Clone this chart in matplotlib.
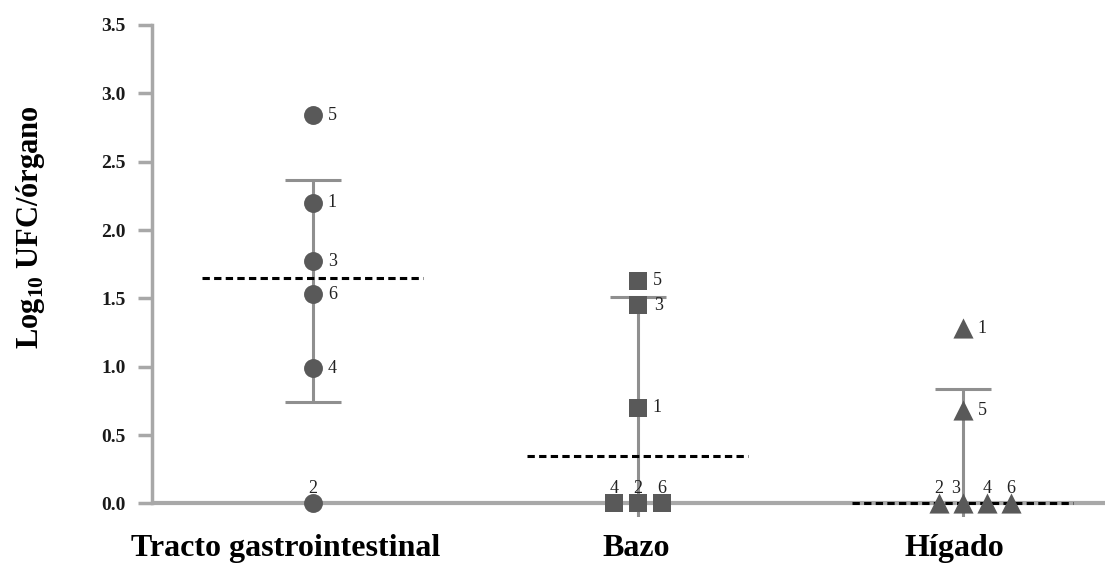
import numpy as np
import matplotlib.pyplot as plt

plt.rcParams.update({'font.family': 'Liberation Serif',
                     'mathtext.fontset': 'custom',
                     'mathtext.rm': 'Liberation Serif',
                     'mathtext.bf': 'Liberation Serif:bold'})

groups = ['Tracto gastrointestinal', 'Bazo', 'Hígado']

tracto_ids = ['5', '1', '3', '6', '4', '2']
tracto_vals = [2.84, 2.20, 1.77, 1.53, 0.99, 0.0]

bazo_ids = ['5', '3', '1', '4', '2', '6']
bazo_vals = [1.63, 1.45, 0.70, 0.0, 0.0, 0.0]

higado_ids = ['1', '5', '2', '3', '4', '6']
higado_vals = [1.28, 0.68, 0.0, 0.0, 0.0, 0.0]

# half-length of the error bars
err_half = [0.81, 0.88, 0.51]

# horizontal spread for the points sitting on 0 (in steps)
jitter = [
    [0, 0, 0, 0, 0, 0],
    [0, 0, 0, -1, 0, 1],
    [0, 0, -1, 0, 1, 2],
]
markers = ['o', 's', '^']
label_shift = [-0.083, -0.006, -0.025]  # group names are not quite centred

mk_color = '#595959'
bar_color = '#8f8f8f'
axis_color = '#a8a8a8'
step = 0.074

fig = plt.figure(figsize=(11.18, 5.67), dpi=100)
ax = fig.add_axes([0.136, 0.088, 0.852, 0.868])

all_ids = [tracto_ids, bazo_ids, higado_ids]
all_vals = [tracto_vals, bazo_vals, higado_vals]

ax.axhline(0, color=axis_color, lw=3, zorder=1)

for i, (ids, vals) in enumerate(zip(all_ids, all_vals)):
    x0 = i + 1
    vals = np.array(vals)
    mean = vals.mean()
    med = np.median(vals)

    ax.errorbar(x0, mean, yerr=err_half[i], fmt='none', ecolor=bar_color,
                elinewidth=2.2, capsize=20, capthick=2.2, zorder=2)
    ax.hlines(med, x0 - 0.34, x0 + 0.34, colors='black', lw=2.2,
              linestyles=(0, (2.4, 1.4)), zorder=3)

    xs = x0 + np.array(jitter[i]) * step
    ax.scatter(xs, vals, marker=markers[i], s=185 if i != 2 else 210,
               color=mk_color, zorder=4, linewidths=0, clip_on=False)

    # animal numbers: beside the point, or above it when on the axis
    for xx, v, lab in zip(xs, vals, ids):
        if v > 0:
            dx = 15 if (i == 1 and lab == '3') else 14
            ax.annotate(lab, (xx, v), xytext=(dx, 0), textcoords='offset points',
                        ha='center', va='center', fontsize=13, color='#222222', zorder=5)
        else:
            dx = -5 if xx == x0 and i == 2 else 0
            ax.annotate(lab, (xx, v), xytext=(dx, 11), textcoords='offset points',
                        ha='center', va='center', fontsize=13, color='#222222', zorder=5)

    ax.text(x0 + label_shift[i], -0.22, groups[i],
            ha='center', va='top', fontsize=23, fontweight='bold')

ax.set_xlim(0.505, 3.437)
ax.set_ylim(-0.1, 3.5)

for s in ['top', 'right', 'bottom']:
    ax.spines[s].set_visible(False)
ax.spines['left'].set_color(axis_color)
ax.spines['left'].set_linewidth(2.5)
ax.spines['left'].set_bounds(0, 3.5)

ax.set_yticks(np.arange(0, 3.6, 0.5))
ax.set_yticklabels([f'{v:.1f}' for v in np.arange(0, 3.6, 0.5)],
                   fontsize=14, fontweight='bold', color='#1a1a1a')
ax.tick_params(axis='y', length=10, width=2.5, color=axis_color, pad=9)
ax.set_xticks([])

ax.set_ylabel(r'Log$_{\mathbf{10}}$ UFC/órgano', fontsize=22, fontweight='bold')
ax.yaxis.set_label_coords(-0.11, 0.59)

plt.savefig('out.png', dpi=100)
plt.close()
